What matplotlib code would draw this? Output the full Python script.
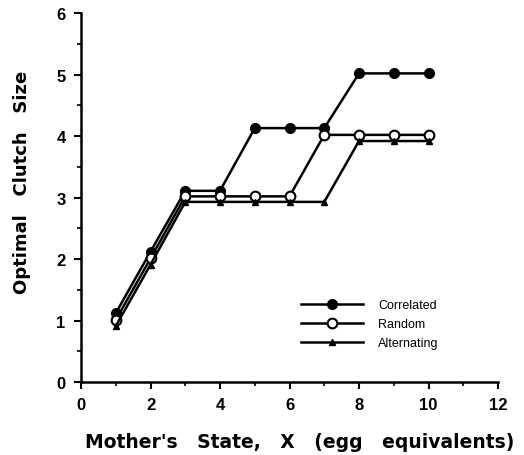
import matplotlib
matplotlib.use('Agg')
import matplotlib.pyplot as plt
import numpy as np

## values
mother_state = [1, 2, 3, 4, 5, 6, 7, 8, 9, 10]
correlated = [1.12, 2.12, 3.11, 3.11, 4.13, 4.13, 4.13, 5.02, 5.02, 5.02]
random_env = [1.01, 2.01, 3.02, 3.02, 3.02, 3.02, 4.02, 4.02, 4.02, 4.02]
alternating = [0.91, 1.91, 2.93, 2.93, 2.93, 2.93, 2.93, 3.92, 3.92, 3.92]

plt.rcParams['font.family'] = ['Liberation Sans', 'DejaVu Sans']

fig = plt.figure(figsize=(5.24, 4.56), dpi=100)
ax = fig.add_axes([0.1546, 0.160, 0.7958, 0.809])

ax.plot(mother_state, correlated, 'k-', lw=1.8, marker='o', ms=7,
        mfc='black', mec='black', label='Correlated')
ax.plot(mother_state, random_env, 'k-', lw=1.8, marker='o', ms=7,
        mfc='white', mec='black', mew=1.5, label='Random')
ax.plot(mother_state, alternating, 'k-', lw=1.8, marker='^', ms=5,
        mfc='black', mec='black', label='Alternating')

ax.set_xlim(0, 12)
ax.set_ylim(0, 6)
ax.set_xticks(np.arange(0, 13, 2))
ax.set_xticks(np.arange(1, 12, 2), minor=True)
ax.set_yticks(np.arange(0, 7, 1))
ax.set_yticks(np.arange(0.5, 6, 1), minor=True)

ax.spines['top'].set_visible(False)
ax.spines['right'].set_visible(False)
ax.spines['left'].set_linewidth(1.8)
ax.spines['bottom'].set_linewidth(1.8)

ax.tick_params(which='major', direction='out', length=5, width=1.5,
               labelsize=12, pad=6)
ax.tick_params(which='minor', direction='out', length=3, width=1.2)
for lab in ax.get_xticklabels() + ax.get_yticklabels():
    lab.set_fontweight('bold')

ax.set_xlabel("Mother's   State,   X   (egg   equivalents)", fontsize=13.5,
              fontweight='bold', family=['DejaVu Sans'])
ax.set_ylabel("Optimal   Clutch   Size", fontsize=13, fontweight='bold',
              family=['DejaVu Sans'])
ax.xaxis.set_label_coords(0.525, -0.135)
ax.yaxis.set_label_coords(-0.12, 0.545)

leg = ax.legend(loc='upper left', bbox_to_anchor=(0.5, 0.255), frameon=False,
                fontsize=9, handlelength=5, numpoints=1, labelspacing=0.55,
                handletextpad=1.2)

plt.savefig('out.png', dpi=100)
